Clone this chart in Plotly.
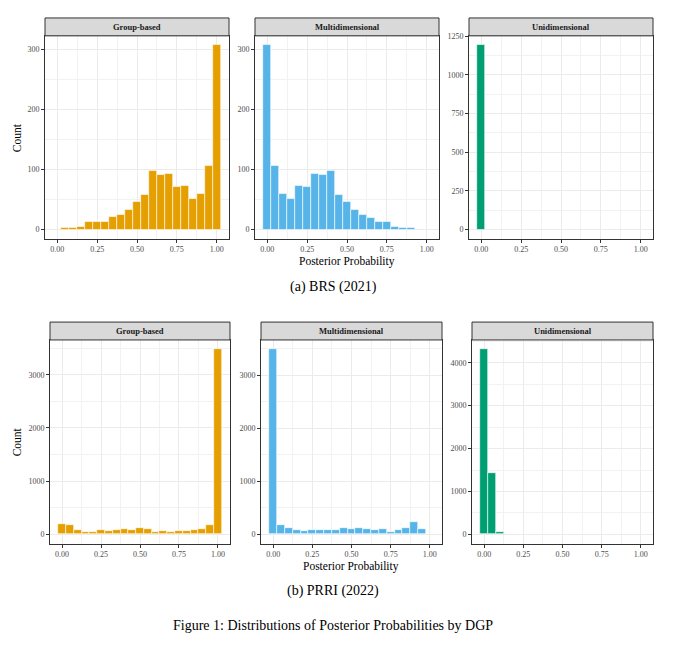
import plotly.graph_objs as go

# bin centres (binwidth 0.05)
bin_centers = [0.00, 0.05, 0.10, 0.15, 0.20, 0.25, 0.30, 0.35, 0.40, 0.45, 0.50,
               0.55, 0.60, 0.65, 0.70, 0.75, 0.80, 0.85, 0.90, 0.95, 1.00]

# (a) BRS (2021)
brs_group = [0, 3, 3, 5, 12, 13, 13, 21, 24, 33, 46, 57, 97, 90, 92, 71, 73, 51, 60, 105, 307]
brs_multi = [307, 105, 60, 51, 73, 71, 92, 90, 97, 57, 46, 33, 24, 20, 12, 12, 5, 3, 3, 0, 0]
brs_uni = [1192, 0, 0, 0, 0, 0, 0, 0, 0, 0, 0, 0, 0, 0, 0, 0, 0, 0, 0, 0, 0]

# (b) PRRI (2022)
prri_group = [206, 181, 88, 50, 38, 88, 69, 75, 94, 81, 119, 100, 50, 69, 50, 63, 63, 75, 106, 175, 3480]
prri_multi = [3490, 188, 113, 88, 63, 75, 75, 81, 81, 119, 100, 119, 94, 75, 100, 38, 75, 125, 238, 100, 0]
prri_uni = [4315, 1432, 55, 0, 0, 0, 0, 0, 0, 0, 0, 0, 0, 0, 0, 0, 0, 0, 0, 0, 0]

facet_names = ["Group-based", "Multidimensional", "Unidimensional"]
facet_colors = ["#E69F00", "#56B4E9", "#009E73"]
x_ticks = [0.0, 0.25, 0.5, 0.75, 1.0]
x_ticklabels = ["0.00", "0.25", "0.50", "0.75", "1.00"]

W, H = 680, 647
OFF = 8  # page body margin
FONT = "Liberation Serif"

# panel boxes in screen pixels: (left, right, strip_top, strip_bottom, plot_bottom)
panels = [
    (45, 229, 14, 32, 236), (255, 439, 14, 32, 236), (469, 653, 14, 32, 236),
    (50, 230, 320, 338, 543), (261, 442, 320, 338, 543), (472, 653, 320, 338, 543),
]
series = [brs_group, brs_multi, brs_uni, prri_group, prri_multi, prri_uni]
y_dticks = [100, 100, 250, 1000, 1000, 1000]


def px_x(v):
    return (v - OFF) / W


def px_y(v):
    return 1 - (v - OFF) / H


fig = go.Figure()
shapes = []
annotations = []
layout_axes = {}

for i, (box, counts, dt) in enumerate(zip(panels, series, y_dticks)):
    left, right, s_top, s_bot, p_bot = box
    n = i + 1
    xs = [c for c, v in zip(bin_centers, counts) if v > 0]
    ys = [v for v in counts if v > 0]
    fig.add_trace(go.Bar(
        x=xs, y=ys, width=0.05,
        marker=dict(color=facet_colors[i % 3], line=dict(color="white", width=0.6)),
        xaxis="x" if n == 1 else "x%d" % n,
        yaxis="y" if n == 1 else "y%d" % n,
        showlegend=False,
    ))
    ymax = max(counts)
    xa = dict(
        domain=[px_x(left), px_x(right)], anchor="y" if n == 1 else "y%d" % n,
        range=[-0.0775, 1.0775], tickvals=x_ticks, ticktext=x_ticklabels,
        showline=True, mirror=True, linecolor="#333333", linewidth=1,
        ticks="outside", ticklen=3, tickcolor="#333333",
        tickfont=dict(family=FONT, size=8, color="#4d4d4d"),
        showgrid=True, gridcolor="#ebebeb", gridwidth=1, zeroline=False,
        minor=dict(dtick=0.125, tick0=0, showgrid=True, gridcolor="#f2f2f2", gridwidth=0.6),
    )
    ya = dict(
        domain=[px_y(p_bot), px_y(s_bot)], anchor="x" if n == 1 else "x%d" % n,
        range=[-0.05 * ymax, 1.05 * ymax], tick0=0, dtick=dt,
        showline=True, mirror=True, linecolor="#333333", linewidth=1,
        ticks="outside", ticklen=3, tickcolor="#333333",
        tickfont=dict(family=FONT, size=8, color="#4d4d4d"),
        showgrid=True, gridcolor="#ebebeb", gridwidth=1, zeroline=False,
        minor=dict(dtick=dt / 2, tick0=0, showgrid=True, gridcolor="#f2f2f2", gridwidth=0.6),
    )
    layout_axes["xaxis" if n == 1 else "xaxis%d" % n] = xa
    layout_axes["yaxis" if n == 1 else "yaxis%d" % n] = ya

    # facet strip
    shapes.append(dict(
        type="rect", xref="paper", yref="paper",
        x0=px_x(left), x1=px_x(right), y0=px_y(s_bot), y1=px_y(s_top),
        fillcolor="#d9d9d9", line=dict(color="#333333", width=1), layer="above",
    ))
    annotations.append(dict(
        x=px_x((left + right) / 2), y=px_y((s_top + s_bot) / 2), xref="paper", yref="paper",
        xanchor="center", yanchor="middle",
        text="<b>%s</b>" % facet_names[i % 3], showarrow=False,
        font=dict(family=FONT, size=8.5, color="#1a1a1a"),
    ))

# axis titles and captions
text_items = [
    ("Count", 17, 135, 11.5, -90),
    ("Count", 17, 441, 11.5, -90),
    ("Posterior Probability", 347, 259, 11.5, 0),
    ("Posterior Probability", 351, 566, 11.5, 0),
    ("(a) BRS (2021)", 333, 285, 14, 0),
    ("(b) PRRI (2022)", 333, 591, 14, 0),
    ("Figure 1: Distributions of Posterior Probabilities by DGP", 333, 625, 14, 0),
]
for txt, x, y, size, angle in text_items:
    annotations.append(dict(
        x=px_x(x), y=px_y(y), xref="paper", yref="paper", text=txt,
        xanchor="center", yanchor="middle",
        showarrow=False, textangle=angle, font=dict(family=FONT, size=size, color="black"),
    ))

fig.update_layout(
    width=W, height=H, margin=dict(l=0, r=0, t=0, b=0),
    paper_bgcolor="white", plot_bgcolor="white",
    bargap=0, shapes=shapes, annotations=annotations,
    **layout_axes,
)

fig.write_html("out.html")
